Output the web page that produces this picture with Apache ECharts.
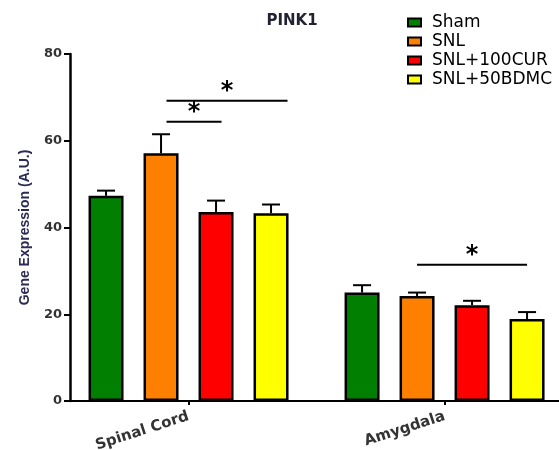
<!DOCTYPE html>
<html><head><meta charset="utf-8">
<script src="https://cdn.jsdelivr.net/npm/echarts@6/dist/echarts.min.js"></script>
<style>html,body{margin:0;padding:0;background:#fff}#c{width:559px;height:450px}</style>
</head><body><div id="c"></div>
<script>
const categories = ['Spinal Cord', 'Amygdala'];
const seriesNames = ['Sham', 'SNL', 'SNL+100CUR', 'SNL+50BDMC'];
const shamValues = [47.3, 25.0];
const snlValues = [57.1, 24.2];
const curValues = [43.6, 22.1];
const bdmcValues = [43.3, 18.9];
const shamErr = [1.2, 1.7];
const snlErr = [4.4, 0.8];
const curErr = [2.6, 1.0];
const bdmcErr = [2.0, 1.6];
// significance: [category index, line height value, from bar, to bar]
const sigLines = [[0, 64.4, 1.1, 2.1], [0, 69.2, 1.1, 3.3], [1, 31.4, 1, 3]];
const yTicks = [0, 20, 40, 60, 80];

const colors = ['#007f00', '#ff8000', '#ff0000', '#ffff00'];
const values = [shamValues, snlValues, curValues, bdmcValues];
const errs = [shamErr, snlErr, curErr, bdmcErr];
const BW = 35, GAP = 20;
function barOffset(i) { return -(4 * BW + 3 * GAP) / 2 + BW / 2 + i * (BW + GAP); }
const catIdx = categories.map((c, k) => k);

const chart = echarts.init(document.getElementById('c'));
const series = [];
values.forEach((v, i) => {
  series.push({
    name: seriesNames[i], type: 'bar', data: v.map((val, k) => [k, val]), barWidth: BW, barGap: (GAP / BW * 100) + '%',
    itemStyle: { color: colors[i], borderColor: '#000', borderWidth: 2.5 }, z: 3
  });
});
values.forEach((v, i) => {
  series.push({
    type: 'custom', z: 2, silent: true,
    data: v.map((val, k) => [k, val, errs[i][k]]),
    encode: { x: 0, y: 1 },
    renderItem: function (params, api) {
      const c = api.value(0), val = api.value(1), e = api.value(2);
      const p0 = api.coord([c, val]);
      const p1 = api.coord([c, val + e]);
      const x = p0[0] + barOffset(i);
      return { type: 'group', children: [
        { type: 'line', shape: { x1: x, y1: p0[1], x2: x, y2: p1[1] }, style: { stroke: '#000', lineWidth: 2 } },
        { type: 'line', shape: { x1: x - 9, y1: p1[1], x2: x + 9, y2: p1[1] }, style: { stroke: '#000', lineWidth: 2 } }
      ]};
    }
  });
});
series.push({
  type: 'custom', z: 4, silent: true,
  data: sigLines,
  encode: { x: 0, y: 1 },
  renderItem: function (params, api) {
    const c = api.value(0), yv = api.value(1), f = api.value(2), t = api.value(3);
    const p = api.coord([c, yv]);
    const x1 = p[0] + barOffset(f), x2 = p[0] + barOffset(t);
    return { type: 'group', children: [
      { type: 'line', shape: { x1: x1, y1: p[1], x2: x2, y2: p[1] }, style: { stroke: '#000', lineWidth: 2 } },
      { type: 'text', style: { text: '*', x: (x1 + x2) / 2, y: p[1] + 3, align: 'center', verticalAlign: 'bottom',
        font: 'bold 24px "DejaVu Sans", Arial', fill: '#000' } }
    ]};
  }
});

chart.setOption({
  animation: false,
  backgroundColor: '#fff',
  title: { text: 'PINK1', left: 287, top: 9, textAlign: 'center',
    textStyle: { fontFamily: '"DejaVu Sans", Arial', fontWeight: 'bold', fontSize: 15, color: '#222233' } },
  legend: {
    orient: 'vertical', left: 402, top: 9, itemWidth: 13, itemHeight: 8, itemGap: 2,
    icon: 'rect', data: seriesNames,
    itemStyle: { borderColor: '#000', borderWidth: 2 },
    textStyle: { fontFamily: '"DejaVu Sans", Arial', fontSize: 17, color: '#000', padding: [0, 0, 0, 6] }
  },
  grid: { left: 70, right: 0, top: 54, bottom: 49, containLabel: false, outerBoundsMode: 'none' },
  xAxis: {
    type: 'value', min: -0.463, max: 1.447, splitLine: { show: false },
    axisLine: { lineStyle: { color: '#000', width: 2 } },
    axisTick: { customValues: catIdx, length: 4, lineStyle: { color: '#000', width: 2 } },
    axisLabel: { customValues: catIdx, rotate: 18, margin: 15, formatter: v => categories[Math.round(v)],
      fontFamily: '"DejaVu Sans", Arial', fontWeight: 'bold', fontSize: 15, color: '#333' }
  },
  yAxis: {
    type: 'value', min: 0, max: 80, interval: 20,
    name: 'Gene Expression (A.U.)', nameLocation: 'middle', nameGap: 38, nameRotate: 90,
    nameTextStyle: { fontFamily: '"Liberation Sans", Arial', fontWeight: 'bold', fontSize: 14, color: '#2b2b55' },
    axisLine: { show: true, onZero: false, lineStyle: { color: '#000', width: 2.5 } },
    axisTick: { show: true, length: 6, lineStyle: { color: '#000', width: 2 } },
    axisLabel: { margin: 8, fontFamily: '"DejaVu Sans", Arial', fontWeight: 'bold', fontSize: 13, color: '#333',
      formatter: v => yTicks.includes(v) ? String(v) : '' },
    splitLine: { show: false }
  },
  series: series
});
</script></body></html>
